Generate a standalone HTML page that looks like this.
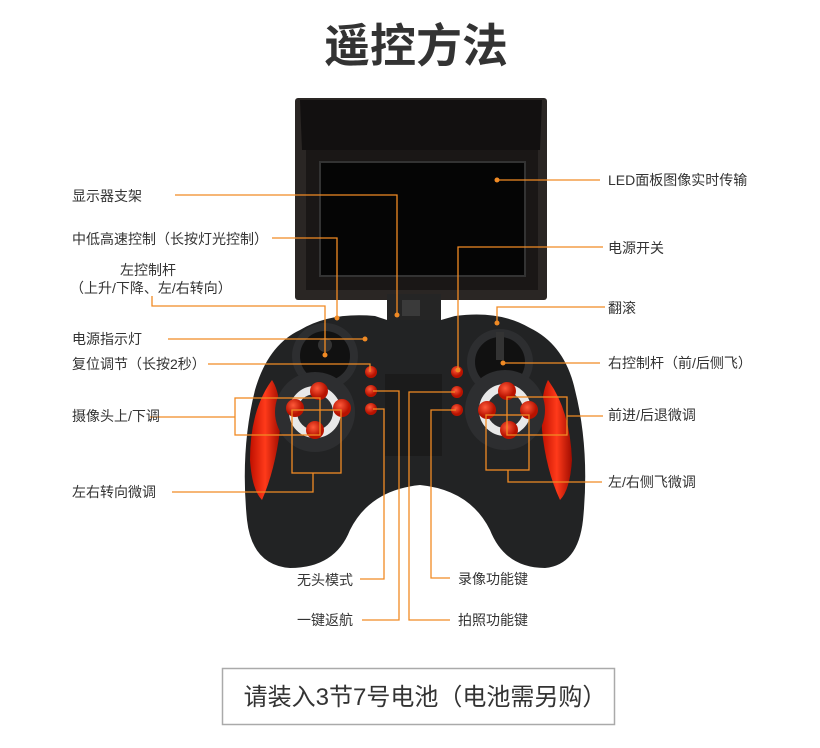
<!DOCTYPE html>
<html><head><meta charset="utf-8"><style>
body{margin:0;background:#fff;width:820px;height:748px;overflow:hidden}
svg{display:block}
text{font-family:"Liberation Sans","Noto Sans CJK SC",sans-serif;fill:#333}
</style></head><body>
<svg width="820" height="748" viewBox="0 0 820 748">
<defs>
<linearGradient id="rg" x1="0" x2="1"><stop offset="0" stop-color="#c01000"/><stop offset=".5" stop-color="#ff3a1a"/><stop offset="1" stop-color="#a00c00"/></linearGradient>
<radialGradient id="bt" cx=".4" cy=".35"><stop offset="0" stop-color="#ff5a3a"/><stop offset="1" stop-color="#b81200"/></radialGradient>
</defs>
<text x="416" y="62" font-size="46" font-weight="bold" text-anchor="middle" fill="#2b2b2b">遥控方法</text>

<!-- screen -->
<rect x="295" y="98" width="252" height="202" rx="3" fill="#2a2624"/>
<path d="M300 100 L542 100 L540 150 L302 150 Z" fill="#121010"/>
<rect x="306" y="150" width="232" height="140" fill="#1a1716"/>
<rect x="320" y="162" width="205" height="114" fill="#050505" stroke="#333" stroke-width="2"/>
<!-- mount -->
<rect x="387" y="294" width="54" height="80" fill="#252525"/>
<rect x="402" y="300" width="18" height="16" fill="#3a3a3a"/>

<!-- controller body -->
<path d="M300 330 Q330 312 375 316 L387 320 L441 320 L455 316 Q500 310 530 328 Q565 345 575 390 Q590 450 583 520 Q578 565 545 568 Q505 568 490 530 Q470 490 420 485 Q370 490 350 530 Q335 568 290 568 Q252 565 247 520 Q240 450 255 390 Q268 345 300 330 Z" fill="#222324"/>
<path d="M272 380 Q250 410 250 460 Q252 490 262 500 Q275 470 280 430 Q282 395 272 380 Z" fill="url(#rg)"/>
<path d="M548 380 Q570 410 572 460 Q570 490 560 500 Q546 470 542 430 Q540 395 548 380 Z" fill="url(#rg)"/>
<rect x="385" y="374" width="57" height="82" fill="#1b1b1b"/>
<!-- left sticks -->
<circle cx="325" cy="356" r="33" fill="#2d2e30"/>
<circle cx="325" cy="356" r="25" fill="#111"/>
<circle cx="325" cy="345" r="7" fill="#333"/>
<circle cx="315" cy="412" r="40" fill="#2d2e30"/>
<circle cx="315" cy="412" r="22" fill="none" stroke="#e8e8e8" stroke-width="8"/>
<circle cx="319" cy="391" r="9" fill="url(#bt)"/>
<circle cx="295" cy="408" r="9" fill="url(#bt)"/>
<circle cx="342" cy="408" r="9" fill="url(#bt)"/>
<circle cx="315" cy="430" r="9" fill="url(#bt)"/>
<!-- right -->
<circle cx="500" cy="362" r="33" fill="#2d2e30"/>
<circle cx="500" cy="362" r="25" fill="#111"/>
<rect x="496" y="332" width="8" height="28" fill="#333"/>
<circle cx="505" cy="410" r="40" fill="#2d2e30"/>
<circle cx="505" cy="410" r="22" fill="none" stroke="#e8e8e8" stroke-width="8"/>
<circle cx="507" cy="391" r="9" fill="url(#bt)"/>
<circle cx="487" cy="410" r="9" fill="url(#bt)"/>
<circle cx="529" cy="410" r="9" fill="url(#bt)"/>
<circle cx="509" cy="430" r="9" fill="url(#bt)"/>
<!-- small buttons -->
<circle cx="371" cy="372" r="6" fill="url(#bt)"/>
<circle cx="371" cy="391" r="6" fill="url(#bt)"/>
<circle cx="371" cy="409" r="6" fill="url(#bt)"/>
<circle cx="457" cy="372" r="6" fill="url(#bt)"/>
<circle cx="457" cy="392" r="6" fill="url(#bt)"/>
<circle cx="457" cy="410" r="6" fill="url(#bt)"/>

<!-- leader lines -->
<g fill="none" stroke="#f08a24" stroke-width="1.3">
<polyline points="175,195 397,195 397,315"/>
<polyline points="272,238 337,238 337,318"/>
<polyline points="152,296 152,306 325,306 325,355"/>
<polyline points="168,339 365,339"/>
<polyline points="208,364 370,364 370,372"/>
<polyline points="150,417 235,417"/>
<rect x="235" y="398" width="85" height="37"/>
<polyline points="172,492 313,492 313,473"/>
<rect x="292" y="410" width="49" height="63"/>
<polyline points="360,579 384,579 384,409 373,409"/>
<polyline points="362,620 399,620 399,391 373,391"/>
<polyline points="455,392 409,392 409,620 450,620"/>
<polyline points="456,410 431,410 431,578 450,578"/>
<polyline points="497,180 600,180"/>
<polyline points="603,247 458,247 458,372"/>
<polyline points="605,307 497,307 497,323"/>
<polyline points="503,363 600,363"/>
<rect x="507" y="397" width="60" height="38"/>
<polyline points="567,416 603,416"/>
<rect x="486" y="415" width="43" height="55"/>
<polyline points="508,470 508,482 602,482"/>
</g>
<g fill="#f08a24">
<circle cx="397" cy="315" r="2.5"/><circle cx="337" cy="318" r="2.5"/><circle cx="325" cy="355" r="2.5"/>
<circle cx="365" cy="339" r="2.5"/><circle cx="497" cy="180" r="2.5"/><circle cx="458" cy="370" r="2.5"/>
<circle cx="497" cy="323" r="2.5"/><circle cx="503" cy="363" r="2.5"/>
</g>

<g font-size="14">
<text x="72" y="201">显示器支架</text>
<text x="72" y="244">中低高速控制（长按灯光控制）</text>
<text x="120" y="275">左控制杆</text>
<text x="70" y="293">（上升/下降、左/右转向）</text>
<text x="72" y="344">电源指示灯</text>
<text x="72" y="369">复位调节（长按2秒）</text>
<text x="72" y="421">摄像头上/下调</text>
<text x="72" y="497">左右转向微调</text>
<text x="297" y="585">无头模式</text>
<text x="297" y="625">一键返航</text>
<text x="458" y="584">录像功能键</text>
<text x="458" y="625">拍照功能键</text>
<text x="608" y="185">LED面板图像实时传输</text>
<text x="608" y="253">电源开关</text>
<text x="608" y="313">翻滚</text>
<text x="608" y="368">右控制杆（前/后侧飞）</text>
<text x="608" y="420">前进/后退微调</text>
<text x="608" y="487">左/右侧飞微调</text>
</g>
<rect x="222.5" y="668.5" width="392" height="56" fill="none" stroke="#aaa" stroke-width="1.5"/>
<text x="425" y="705" font-size="24" text-anchor="middle">请装入3节7号电池（电池需另购）</text>
</svg>
</body></html>
